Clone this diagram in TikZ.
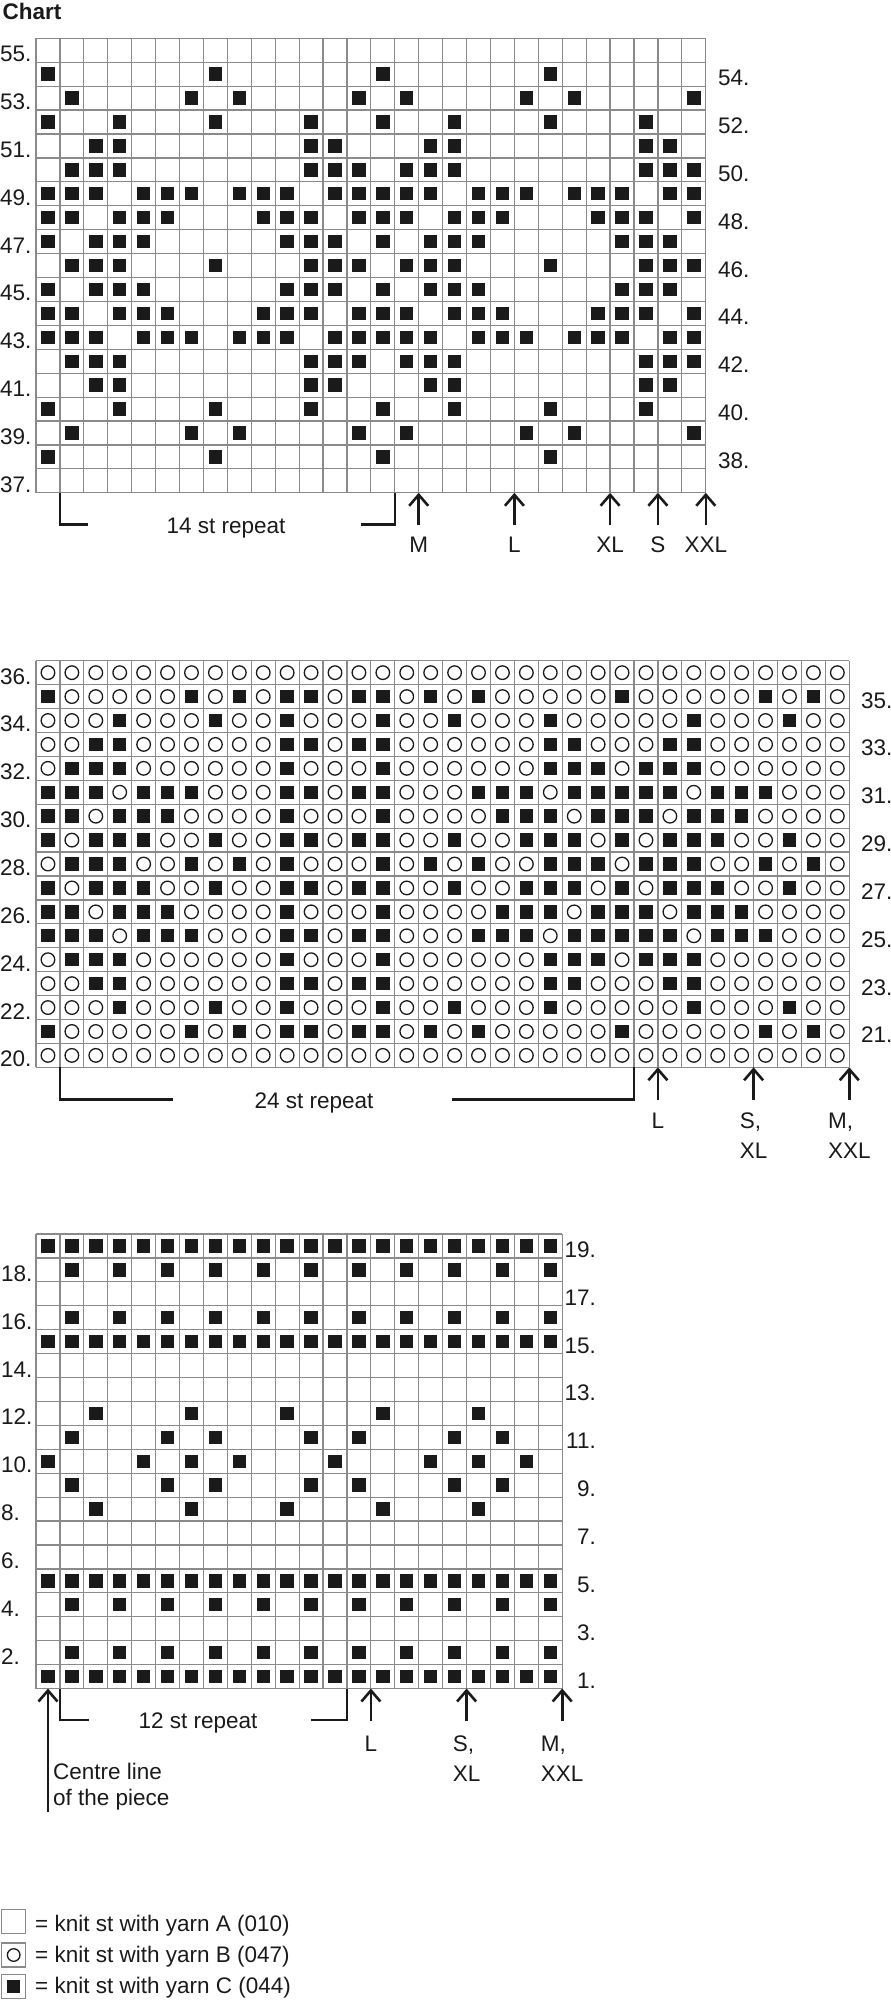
\documentclass[tikz,border=0pt]{standalone}
\usepackage{fontspec}
\setmainfont{Liberation Sans}
\usetikzlibrary{arrows.meta}
\definecolor{gridc}{HTML}{8A8A8A}
\definecolor{inkc}{HTML}{1A1A1A}
\def\cs{23.92}
\begin{document}
\begin{tikzpicture}[x={(1bp,0)},y={(0,-1bp)},
  gridln/.style={draw=gridc,line width=1.2bp},
  blk/.style={fill=inkc},
  circ/.style={draw=inkc,line width=1.3bp},
  txt/.style={inner sep=0pt,font=\fontsize{22.5bp}{27bp}\selectfont,text=inkc},
  brk/.style={draw=inkc,line width=2.6bp},
  arr/.style={draw=inkc,line width=2.6bp,-{Straight Barb[length=11bp,width=19bp]}},
  legbox/.style={draw=gridc,line width=1.2bp,fill=white}]
\useasboundingbox (0,0) rectangle (891,2000);

% ---------------- title
\node[txt,anchor=base west,font=\fontsize{22.5bp}{27bp}\selectfont\bfseries] (title) at (2.5,19.3) {Chart};

% ================= TOP CHART (rows 37-55, 28 columns)
\foreach \n/\cols in {54/{1,8},53/{2,7,9,14},52/{1,4,8,12},51/{3,4,12,13},50/{2,3,4,12,13,14},
  49/{1,2,3,5,6,7,9,10,11,13,14},48/{1,2,4,5,6,10,11,12,14},47/{1,3,4,5,11,12,13},
  46/{2,3,4,8,12,13,14},45/{1,3,4,5,11,12,13},44/{1,2,4,5,6,10,11,12,14},
  43/{1,2,3,5,6,7,9,10,11,13,14},42/{2,3,4,12,13,14},41/{3,4,12,13},40/{1,4,8,12},
  39/{2,7,9,14},38/{1,8}}{
  \pgfmathsetmacro\cy{38.3+(55.5-\n)*\cs}
  \foreach \c in \cols {
    \foreach \k in {0,14}{
      \pgfmathsetmacro\cx{36+(\c+\k-0.5)*\cs}
      \fill[blk] ({\cx-6.7},{\cy-6.7}) rectangle ++(13.4,13.4);
    }
  }
}
\foreach \i in {0,...,28} \draw[gridln] ({36+\i*\cs},38.3) -- ++(0,{19*\cs});
\foreach \j in {0,...,19} \draw[gridln] (36,{38.3+\j*\cs}) -- ++({28*\cs},0);
\foreach \n in {55,53,...,37} \node[txt,anchor=base west] at (0,{38.3+(56-\n)*\cs-0.5}) {\n.};
\foreach \n in {54,52,...,38} \node[txt,anchor=base west] at (718,{38.3+(56-\n)*\cs-0.5}) {\n.};

% repeat bracket
\coordinate (t1a) at (60,492.8); \coordinate (t1b) at (60,524.3); \coordinate (t1c) at (88.4,524.3);
\coordinate (t2a) at (394.8,492.8); \coordinate (t2b) at (394.8,524.3); \coordinate (t2c) at (360.8,524.3);
\draw[brk] (t1a) -- (t1b) -- (t1c);
\draw[brk] (t2a) -- (t2b) -- (t2c);
\node[txt,anchor=base] (trep) at (226,533.3) {14 st repeat};
% size arrows
\foreach \nm/\xx/\lab in {tm/418.7/M,tl/514.4/L,txl/610.1/XL,ts/657.9/S,txxl/705.8/XXL}{
  \coordinate (\nm tip) at (\xx,492.8);
  \node[txt,anchor=base] (\nm) at (\xx,552) {\lab};
  \coordinate (\nm tail) at (\xx,525);
  \draw[arr] (\nm tail) -- (\nm tip);
}

% ================= MIDDLE CHART (rows 20-36, 34 columns)
\foreach \r in {0,...,16}{
  \foreach \c in {1,...,34}{
    \draw[circ] ({36+(\c-0.5)*\cs},{660.7+(\r+0.5)*\cs}) circle[radius=6.8];
  }
}
\foreach \n/\cols in {35/{1,7,9,11,12,14,15,17,19},34/{4,8,11,15,18,22},33/{3,4,11,12,14,15,22,23},
  32/{2,3,4,11,15,22,23,24},31/{1,2,3,5,6,7,11,12,14,15,19,20,21,23,24},
  30/{1,2,4,5,6,11,15,20,21,22,24},29/{1,3,4,5,8,11,12,14,15,18,21,22,23},
  28/{2,3,4,7,9,11,15,17,19,22,23,24},
  27/{1,3,4,5,8,11,12,14,15,18,21,22,23},26/{1,2,4,5,6,11,15,20,21,22,24},
  25/{1,2,3,5,6,7,11,12,14,15,19,20,21,23,24},24/{2,3,4,11,15,22,23,24},
  23/{3,4,11,12,14,15,22,23},22/{4,8,11,15,18,22},21/{1,7,9,11,12,14,15,17,19}}{
  \pgfmathsetmacro\cy{660.7+(36.5-\n)*\cs}
  \foreach \c in \cols {
    \foreach \k in {0,24}{
      \pgfmathtruncatemacro\cc{\c+\k}
      \ifnum\cc<35
        \pgfmathsetmacro\cx{36+(\cc-0.5)*\cs}
        \fill[white] ({\cx-8.6},{\cy-8.6}) rectangle ++(17.2,17.2);
        \fill[blk] ({\cx-6.7},{\cy-6.7}) rectangle ++(13.4,13.4);
      \fi
    }
  }
}
\foreach \i in {0,...,34} \draw[gridln] ({36+\i*\cs},660.7) -- ++(0,{17*\cs});
\foreach \j in {0,...,17} \draw[gridln] (36,{660.7+\j*\cs}) -- ++({34*\cs},0);
\foreach \n in {36,34,...,20} \node[txt,anchor=base west] at (0,{660.7+(37-\n)*\cs-0.5}) {\n.};
\foreach \n in {35,33,...,21} \node[txt,anchor=base west] at (861,{660.7+(37-\n)*\cs-0.5}) {\n.};

\coordinate (m1a) at (60,1067.3); \coordinate (m1b) at (60,1099.3); \coordinate (m1c) at (173.4,1099.3);
\coordinate (m2a) at (634.0,1067.3); \coordinate (m2b) at (634.0,1099.3); \coordinate (m2c) at (451.7,1099.3);
\draw[brk] (m1a) -- (m1b) -- (m1c);
\draw[brk] (m2a) -- (m2b) -- (m2c);
\node[txt,anchor=base] (mrep) at (314,1108.3) {24 st repeat};

\coordinate (mltip) at (657.9,1067.3); \coordinate (mltail) at (657.9,1100);
\draw[arr] (mltail) -- (mltip);
\node[txt,anchor=base] (ml) at (657.9,1128.5) {L};
\coordinate (msxtip) at (753.6,1067.3); \coordinate (msxtail) at (753.6,1100);
\draw[arr] (msxtail) -- (msxtip);
\node[txt,anchor=base] (msx2) at (753.6,1158.5) {XL};
\node[txt,anchor=base west] (msx1) at ([yshift=30bp]msx2.base west) {S,};
\coordinate (mmxtip) at (849.3,1067.3); \coordinate (mmxtail) at (849.3,1100);
\draw[arr] (mmxtail) -- (mmxtip);
\node[txt,anchor=base] (mmx2) at (849.3,1158.5) {XXL};
\node[txt,anchor=base west] (mmx1) at ([yshift=30bp]mmx2.base west) {M,};

% ================= BOTTOM CHART (rows 1-19, 22 columns)
\foreach \n/\cols in {19/{1,...,22},18/{2,4,...,22},16/{2,4,...,22},15/{1,...,22},
  12/{3,7,11,15,19},11/{2,6,8,12,14,18,20},10/{1,5,7,9,13,17,19,21},9/{2,6,8,12,14,18,20},
  8/{3,7,11,15,19},5/{1,...,22},4/{2,4,...,22},2/{2,4,...,22},1/{1,...,22}}{
  \pgfmathsetmacro\cy{1234+(19.5-\n)*\cs}
  \foreach \c in \cols {
    \pgfmathsetmacro\cx{36+(\c-0.5)*\cs}
    \fill[blk] ({\cx-6.7},{\cy-6.7}) rectangle ++(13.4,13.4);
  }
}
\foreach \i in {0,...,22} \draw[gridln] ({36+\i*\cs},1234) -- ++(0,{19*\cs});
\foreach \j in {0,...,19} \draw[gridln] (36,{1234+\j*\cs}) -- ++({22*\cs},0);
\foreach \n in {18,16,...,2} \node[txt,anchor=base west] at (1,{1234+(20-\n)*\cs-0.5}) {\n.};
\foreach \n in {19,17,...,1} \node[txt,anchor=base east] at (596,{1234+(20-\n)*\cs-0.5}) {\n.};

\coordinate (b1a) at (60,1688.5); \coordinate (b1b) at (60,1720); \coordinate (b1c) at (89,1720);
\coordinate (b2a) at (347.0,1688.5); \coordinate (b2b) at (347.0,1720); \coordinate (b2c) at (311.4,1720);
\draw[brk] (b1a) -- (b1b) -- (b1c);
\draw[brk] (b2a) -- (b2b) -- (b2c);
\node[txt,anchor=base] (brep) at (198,1728.3) {12 st repeat};

\coordinate (bctip) at (48,1688.5); \coordinate (bctail) at (48,1811.7);
\draw[arr] (bctail) -- (bctip);
\node[txt,anchor=base west] (bc1) at (53,1779) {Centre line};
\node[txt,anchor=base west] (bc2) at (53,1805) {of the piece};

\coordinate (bltip) at (370.9,1688.5); \coordinate (bltail) at (370.9,1721);
\draw[arr] (bltail) -- (bltip);
\node[txt,anchor=base] (bl) at (370.9,1751) {L};
\coordinate (bsxtip) at (466.6,1688.5); \coordinate (bsxtail) at (466.6,1721);
\draw[arr] (bsxtail) -- (bsxtip);
\node[txt,anchor=base] (bsx2) at (466.6,1781.5) {XL};
\node[txt,anchor=base west] (bsx1) at ([yshift=30bp]bsx2.base west) {S,};
\coordinate (bmxtip) at (562.2,1688.5); \coordinate (bmxtail) at (562.2,1721);
\draw[arr] (bmxtail) -- (bmxtip);
\node[txt,anchor=base] (bmx2) at (562.2,1781.5) {XXL};
\node[txt,anchor=base west] (bmx1) at ([yshift=30bp]bmx2.base west) {M,};

% ================= LEGEND
\draw[legbox] (1.8,1909.5) rectangle (25.6,1933.5);
\node[txt,anchor=base west] (la) at (35,1931) {= knit st with yarn A (010)};
\draw[legbox] (1.8,1943) rectangle (25.6,1967);
\draw[circ] (13.7,1955) circle[radius=6.3];
\node[txt,anchor=base west] (lb) at (35,1962) {= knit st with yarn B (047)};
\draw[legbox] (1.8,1974.2) rectangle (25.6,1998.2);
\fill[blk] (7.3,1979.8) rectangle ++(12.8,12.8);
\node[txt,anchor=base west] (lc) at (35,1993) {= knit st with yarn C (044)};
\end{tikzpicture}
\end{document}
